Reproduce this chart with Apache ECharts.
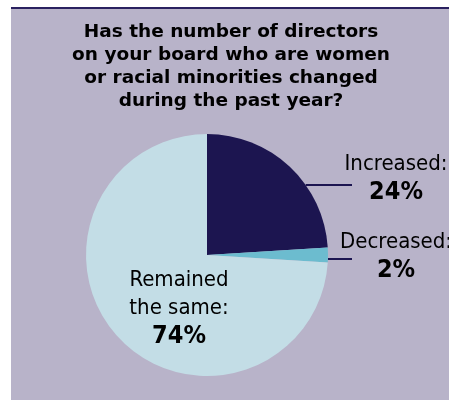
<!DOCTYPE html>
<html>
<head>
<meta charset="utf-8">
<script src="https://cdn.jsdelivr.net/npm/echarts@6/dist/echarts.min.js"></script>
<style>
  html, body { margin: 0; padding: 0; background: #fff; }
  #chart { width: 449px; height: 400px; }
</style>
</head>
<body>
<div id="chart"></div>
<script>
// survey answers, clockwise from 12 o'clock
const categories = ['Increased', 'Decreased', 'Remained the same'];
const values = [24, 2, 74];
const labelLines = [['Increased:'], ['Decreased:'], ['Remained', 'the same:']];

const titleText = 'Has the number of directors\non your board who are women\nor racial minorities changed\nduring the past year?';
const colors = ['#1c1550', '#6cbccf', '#c3dde6'];

const CX = 207, CY = 255, R = 121;
const labelFont = '"DejaVu Sans Condensed", "Liberation Sans Narrow", sans-serif';

const chart = echarts.init(document.getElementById('chart'));

chart.setOption({
  backgroundColor: '#ffffff',
  animation: false,
  graphic: [
    { type: 'rect', shape: { x: 11, y: 7, width: 438, height: 393 }, style: { fill: '#b8b3c9' }, z: -10 },
    { type: 'rect', shape: { x: 11, y: 7, width: 438, height: 2 }, style: { fill: '#2a2160' }, z: -9 }
  ],
  title: {
    text: titleText,
    left: 226,
    textAlign: 'center',
    top: 16,
    textStyle: {
      fontFamily: '"DejaVu Sans", sans-serif',
      fontWeight: 'bold',
      fontSize: 18.5,
      lineHeight: 23,
      color: '#000'
    }
  },
  series: [{
    type: 'pie',
    center: [CX, CY],
    radius: R,
    startAngle: 90,
    clockwise: true,
    silent: true,
    itemStyle: { borderWidth: 0 },
    label: {
      show: true,
      position: 'outside',
      overflow: 'none',
      color: '#000',
      formatter: function (p) {
        const rows = labelLines[p.dataIndex].map(function (t) { return '{n|' + t + '}'; });
        rows.push('{v|' + p.value + '%}');
        return rows.join('\n');
      },
      rich: {
        n: { fontFamily: labelFont, fontSize: 22, lineHeight: 28, color: '#000' },
        v: { fontFamily: labelFont, fontSize: 25, fontWeight: 'bold', lineHeight: 28, color: '#000' }
      }
    },
    labelLine: {
      show: true,
      length: 0,
      length2: 20,
      lineStyle: { color: '#1c1550', width: 2 }
    },
    labelLayout: function (p) {
      const i = p.dataIndex;
      if (i === 2) {
        return { x: 179, y: 308, align: 'center', verticalAlign: 'middle' };
      }
      const lineY = i === 0 ? 185 : 259;
      const ex = CX + Math.sqrt(R * R - (lineY - CY) * (lineY - CY));
      return {
        x: 396,
        y: i === 0 ? 178 : 256,
        align: 'center',
        verticalAlign: 'middle',
        labelLinePoints: [[ex, lineY], [ex, lineY], [352, lineY]]
      };
    },
    data: categories.map(function (c, i) {
      const item = { name: c, value: values[i], itemStyle: { color: colors[i] } };
      if (i === 2) {
        item.label = { position: 'inside' };
        item.labelLine = { show: false };
      }
      return item;
    })
  }]
});
</script>
</body>
</html>
